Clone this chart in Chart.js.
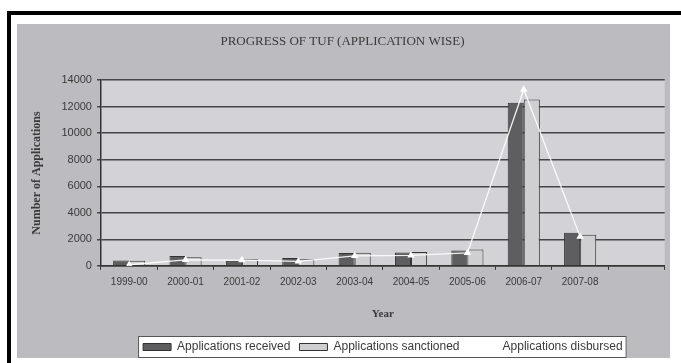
<!DOCTYPE html>
<html>
<head>
<meta charset="utf-8">
<script src="https://cdn.jsdelivr.net/npm/chart.js@4.4.1/dist/chart.umd.min.js"></script>
<style>
  html, body { margin: 0; padding: 0; background: #fff; }
  body { width: 681px; height: 363px; position: relative; overflow: hidden; }
  #frame {
    position: absolute; left: 7px; top: 11px; right: 0; bottom: 0;
    border-top: 4px solid #000; border-left: 4px solid #000;
  }
  #wrap { position: absolute; left: 17px; top: 24px; width: 653px; height: 334px; background: #bcbcc0; }
</style>
</head>
<body>
<div id="frame"></div>
<div id="wrap"><canvas id="chart" width="653" height="334"></canvas></div>
<script>
// Data
const years = ['1999-00', '2000-01', '2001-02', '2002-03', '2003-04', '2004-05', '2005-06', '2006-07', '2007-08', ''];
const received = [400, 730, 380, 580, 960, 1000, 1150, 12300, 2500, null];
const sanctioned = [380, 650, 500, 500, 990, 1050, 1230, 12550, 2350, null];
const disbursed = [80, 450, 430, 330, 750, 780, 970, 13300, 2200, null];
const yTicks = [0, 2000, 4000, 6000, 8000, 10000, 12000, 14000];

const TEXT = '#3a3a3a';
const SERIF = '"Liberation Serif", "DejaVu Serif", serif';
const SANS = '"Liberation Sans", "DejaVu Sans", sans-serif';

// paints plot background and the white legend box
const backdrop = {
  id: 'backdrop',
  beforeDraw(chart) {
    const { ctx, chartArea: a } = chart;
    ctx.save();
    ctx.fillStyle = '#d3d3d7';
    ctx.fillRect(a.left, a.top, a.right - a.left, a.bottom - a.top);
    const lg = chart.legend;
    if (lg && lg.legendHitBoxes && lg.legendHitBoxes.length) {
      const hb = lg.legendHitBoxes;
      const l = Math.min(...hb.map(h => h.left)) - 5;
      const r = Math.max(...hb.map(h => h.left + h.width)) + 4;
      const t = Math.min(...hb.map(h => h.top)) - 5;
      const b = Math.min(Math.max(...hb.map(h => h.top + h.height)) + 6, chart.height);
      ctx.fillStyle = '#ffffff';
      ctx.fillRect(l, t, r - l, b - t);
      ctx.strokeStyle = '#555';
      ctx.lineWidth = 1;
      ctx.strokeRect(l + 0.5, t + 0.5, r - l - 1, b - t - 1);
    }
    ctx.restore();
  }
};

new Chart(document.getElementById('chart'), {
  data: {
    labels: years,
    datasets: [
      {
        type: 'bar',
        label: 'Applications received',
        data: received,
        backgroundColor: '#5e5e60',
        borderColor: '#333',
        borderWidth: 1,
        categoryPercentage: 0.57,
        barPercentage: 1,
        order: 1
      },
      {
        type: 'bar',
        label: 'Applications sanctioned',
        data: sanctioned,
        backgroundColor: '#cfcfd2',
        borderColor: '#333',
        borderWidth: 1,
        categoryPercentage: 0.57,
        barPercentage: 1,
        order: 1
      },
      {
        type: 'line',
        label: 'Applications disbursed',
        data: disbursed,
        borderColor: 'rgba(255,255,255,0.9)',
        backgroundColor: '#ffffff',
        borderWidth: 1.3,
        pointStyle: 'triangle',
        pointRadius: 3,
        pointBackgroundColor: '#ffffff',
        pointBorderColor: '#ffffff',
        tension: 0,
        order: 0
      }
    ]
  },
  options: {
    responsive: false,
    animation: false,
    layout: { padding: { left: 0, right: 2, top: 0, bottom: -5 } },
    plugins: {
      title: {
        display: true,
        text: 'PROGRESS OF TUF (APPLICATION WISE)',
        color: TEXT,
        font: { family: SERIF, size: 13, weight: 'normal' },
        padding: { top: 10, bottom: 30.6 }
      },
      legend: {
        position: 'bottom',
        fullSize: false,
        labels: {
          color: TEXT,
          font: { family: SANS, size: 12 },
          boxWidth: 28,
          boxHeight: 7,
          padding: 9,
          sort: (a, b) => a.datasetIndex - b.datasetIndex
        }
      },
      tooltip: { enabled: false }
    },
    scales: {
      x: {
        offset: true,
        grid: {
          display: true,
          offset: true,
          drawOnChartArea: false,
          drawTicks: true,
          tickLength: 4,
          color: '#333'
        },
        border: { display: true, color: '#333', width: 1.5 },
        ticks: {
          color: TEXT,
          font: { family: SANS, size: 10 },
          padding: 6,
          maxRotation: 0,
          autoSkip: false
        },
        title: {
          display: true,
          text: 'Year',
          color: TEXT,
          font: { family: SERIF, size: 11, weight: 'bold' },
          padding: { top: 14, bottom: 11 }
        }
      },
      y: {
        min: 0,
        max: 14000,
        afterBuildTicks(scale) {
          scale.ticks = yTicks.map(v => ({ value: v }));
        },
        grid: {
          color: '#454547',
          lineWidth: 1.5,
          drawTicks: true,
          tickLength: 4
        },
        border: { display: true, color: '#333', width: 1.5 },
        ticks: {
          color: TEXT,
          font: { family: SANS, size: 11 },
          padding: 5,
          callback: v => String(v)
        },
        title: {
          display: true,
          text: 'Number of Applications',
          color: TEXT,
          font: { family: SERIF, size: 12, weight: 'bold' },
          padding: { top: 13, bottom: 12 }
        }
      }
    }
  },
  plugins: [backdrop]
});
</script>
</body>
</html>
